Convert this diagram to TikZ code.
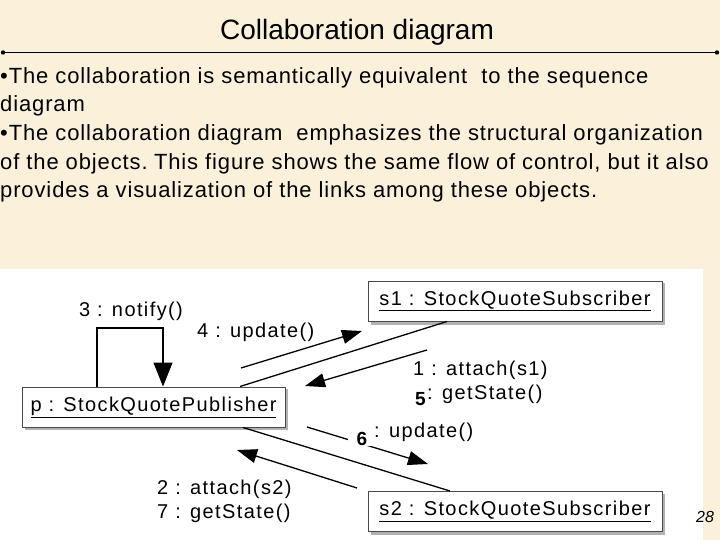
\documentclass[tikz,border=0pt]{standalone}
\usepackage{fontspec}
\setmainfont{Liberation Sans}
\newfontfamily\bodyfont[LetterSpace=4]{Liberation Sans}
\newfontfamily\umlfont[LetterSpace=7]{Liberation Sans}
\usetikzlibrary{arrows.meta,calc}
\definecolor{parch}{HTML}{FBF1DB}
\definecolor{boxline}{HTML}{4A4A4A}
\begin{document}
\begin{tikzpicture}[x=1pt,y=-1pt,
  bodytext/.style={anchor=base west,inner sep=0pt,font=\bodyfont\fontsize{22}{22}\selectfont},
  umltext/.style={inner sep=0pt,font=\umlfont\fontsize{20}{20}\selectfont},
  objbox/.style={draw=boxline,line width=1pt,fill=white,minimum height=40pt,inner sep=0pt,font=\umlfont\fontsize{20}{20}\selectfont},
  link/.style={line width=1.3pt},
  msg/.style={line width=1.3pt,-{Triangle[length=20pt,width=14pt]}},
  bignum/.style={inner sep=1pt,font=\fontsize{19}{19}\selectfont\bfseries}
]
\useasboundingbox (0,0) rectangle (720,540);
\fill[parch] (0,0) rectangle (720,540);
\fill[white] (0,269) rectangle (703,540);

% title
\node[anchor=base,inner sep=0pt,font=\fontsize{28}{28}\selectfont] (title) at (357,40) {Collaboration diagram};
\coordinate (hl) at (3,52.5);
\coordinate (hr) at (717,52.5);
\draw[line width=1.3pt] (hl) -- (hr);
\fill (hl) circle (2.2pt);
\fill (hr) circle (2.2pt);

% body text
\node[bodytext] (l1) at (0,84) {•The collaboration is semantically equivalent\ \ to the sequence};
\node[bodytext] (l2) at (0,112) {diagram};
\node[bodytext] (l3) at (0,141) {•The collaboration diagram\ \ emphasizes the structural organization};
\node[bodytext] (l4) at (0,170) {of the objects.\kern-3pt{} This figure shows the same flow of control, but it also};
\node[bodytext] (l5) at (0,198) {provides a visualization of the links among these objects.};

% object boxes (shadows)
\fill[gray!60] (370.5,282.5) rectangle (664.5,324.5);
\fill[gray!60] (24.5,388.5) rectangle (287.5,429.5);
\fill[gray!60] (370.5,493.5) rectangle (664.5,534.5);
\node[objbox,minimum width=294pt] (s1) at (515,301) {\underline{s1 : StockQuoteSubscriber}};
\node[objbox,minimum width=263pt] (p) at (153.5,407) {\underline{p : StockQuotePublisher}};
\node[objbox,minimum width=294pt] (s2) at (515,511.5) {\underline{s2 : StockQuoteSubscriber}};

% self loop
\coordinate (lp1) at (97,328);
\coordinate (lp2) at (163,328);
\draw[line width=1.3pt,-{Triangle[length=24pt,width=19pt]}] (p.north -| lp1) -- (lp1) -- (lp2) -- (p.north -| lp2);
\node[umltext,anchor=base] (n3) at (131,316) {3 : notify()};

% links
\draw[link] (p.north -| 240,0) -- (s1.south -| 447,0);
\draw[link] (p.south -| 243,0) -- (s2.north -| 450,0);

% messages to s1
\coordinate (m4a) at (241,368);
\coordinate (m4b) at (362,331);
\draw[msg] (m4a) -- (m4b);
\node[umltext,anchor=base west] (n4) at (197,337) {4 : update()};
\coordinate (m1a) at (427,350);
\coordinate (m1b) at (305,386);
\draw[msg] (m1a) -- (m1b);
\node[umltext,anchor=base west] (n1) at (413,375) {1 : attach(s1)};
\node[umltext,anchor=base west] (n5) at (427,399) {: getState()};
\node[bignum,anchor=base east] (b5) at (427,405) {5};

% messages to s2
\coordinate (m6a) at (307,427);
\coordinate (m6b) at (428,464);
\draw[msg] (m6a) -- (m6b);
\node[bignum,anchor=base,fill=white,inner xsep=9pt] (b6) at (362,445) {6};
\node[umltext,anchor=base west] (n6) at (374,437) {: update()};
\coordinate (m2a) at (357,488);
\coordinate (m2b) at (237,450);
\draw[msg] (m2a) -- (m2b);
\node[umltext,anchor=base west] (n2) at (157,494) {2 : attach(s2)};
\node[umltext,anchor=base west] (n7) at (157,518) {7 : getState()};

% page number
\node[anchor=base,inner sep=0pt,font=\fontsize{16}{16}\selectfont\itshape] (pg) at (705,522) {28};
\end{tikzpicture}
\end{document}
